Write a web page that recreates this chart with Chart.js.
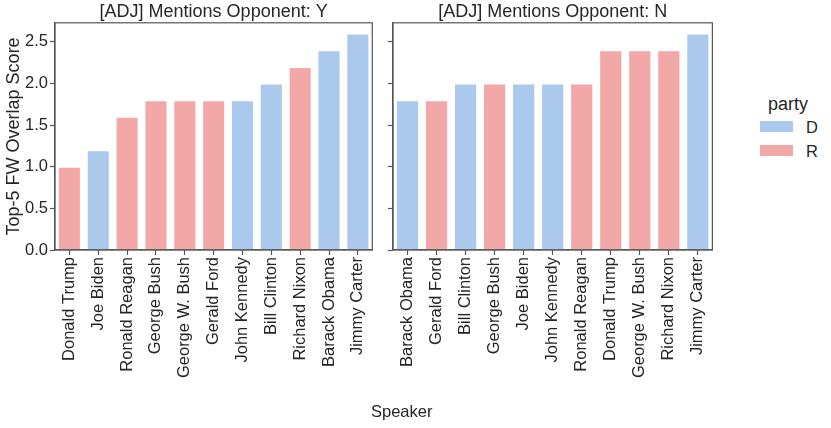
<!DOCTYPE html>
<html><head><meta charset="utf-8">
<script src="https://cdn.jsdelivr.net/npm/chart.js@4"></script>
<style>
html,body{margin:0;padding:0;background:#fff}
body{width:831px;height:428px;position:relative;overflow:hidden;font-family:"Liberation Sans",Arial,sans-serif;color:#262626}
canvas{position:absolute;top:0}
#c1{left:0}
#c2{left:380px}
.txt{position:absolute;white-space:nowrap;line-height:1}
#xtitle{left:371px;top:403px;font-size:16.5px}
#ltitle{left:768px;top:95px;font-size:18px}
.sw{position:absolute;left:760px;width:33px;height:11px}
.lab{position:absolute;left:806px;font-size:16.5px;line-height:1}
</style></head>
<body>
<canvas id="c1" width="380" height="428"></canvas>
<canvas id="c2" width="340" height="428"></canvas>
<div class="txt" id="xtitle">Speaker</div>
<div class="txt" id="ltitle">party</div>
<div class="sw" id="swD" style="top:121px"></div>
<div class="lab" style="top:119px">D</div>
<div class="sw" id="swR" style="top:144.5px"></div>
<div class="lab" style="top:143px">R</div>
<script>
// ---- data ----
const speakersY = ["Donald Trump","Joe Biden","Ronald Reagan","George Bush","George W. Bush","Gerald Ford","John Kennedy","Bill Clinton","Richard Nixon","Barack Obama","Jimmy Carter"];
const partyY    = ["R","D","R","R","R","R","D","D","R","D","D"];
const scoresY   = [1.0,1.2,1.6,1.8,1.8,1.8,1.8,2.0,2.2,2.4,2.6];

const speakersN = ["Barack Obama","Gerald Ford","Bill Clinton","George Bush","Joe Biden","John Kennedy","Ronald Reagan","Donald Trump","George W. Bush","Richard Nixon","Jimmy Carter"];
const partyN    = ["D","R","D","R","D","D","R","R","R","R","D"];
const scoresN   = [1.8,1.8,2.0,2.0,2.0,2.0,2.0,2.4,2.4,2.4,2.6];

const yTicks = [0,0.5,1.0,1.5,2.0,2.5];
const titles = ["[ADJ] Mentions Opponent: Y","[ADJ] Mentions Opponent: N"];
const yTitle = "Top-5 FW Overlap Score";

// ---- style ----
const partyColors = {D:"#abc9ed", R:"#f3a8a8"};
const FONT = '"Liberation Sans", Arial, sans-serif';
const AX = "#555555";
const TXT = "#262626";
document.getElementById("swD").style.background = partyColors.D;
document.getElementById("swR").style.background = partyColors.R;

const framePlugin = {
  id: "frame",
  afterDraw(chart){
    const a = chart.chartArea, ctx = chart.ctx;
    ctx.save();
    ctx.strokeStyle = AX; ctx.lineWidth = 1.2;
    ctx.strokeRect(a.left, a.top, a.right - a.left, a.bottom - a.top);
    ctx.restore();
  }
};

function makeChart(id, labels, values, parties, title, showY, yWidth){
  return new Chart(document.getElementById(id), {
    type: "bar",
    data: {
      labels: labels,
      datasets: [{
        data: values,
        backgroundColor: parties.map(p => partyColors[p]),
        borderColor: "rgba(255,255,255,0.7)",
        borderWidth: 1,
        barPercentage: 0.8,
        categoryPercentage: 1.0
      }]
    },
    options: {
      responsive: false,
      devicePixelRatio: 1,
      animation: false,
      layout: {padding: {left: 0, right: 5, top: 0, bottom: 0}},
      plugins: {
        legend: {display: false},
        tooltip: {enabled: false},
        title: {
          display: true, text: title, fullSize: false,
          color: TXT, font: {family: FONT, size: 18, weight: "normal", lineHeight: 1.1},
          padding: {top: 2, bottom: 1}
        }
      },
      scales: {
        x: {
          type: "category",
          offset: true,
          grid: {display: true, offset: false, drawOnChartArea: false, drawTicks: true, tickLength: 5, tickColor: AX, tickWidth: 1.2},
          border: {display: true, color: AX, width: 1.2},
          ticks: {minRotation: 90, maxRotation: 90, autoSkip: false, padding: 2, color: TXT, font: {family: FONT, size: 16.5}},
          afterFit(s){ s.height = 178; }
        },
        y: {
          min: 0, max: 2.73,
          afterBuildTicks(s){ s.ticks = yTicks.map(v => ({value: v})); },
          grid: {display: true, drawOnChartArea: false, drawTicks: true, tickLength: 5, tickColor: AX, tickWidth: 1.2},
          border: {display: true, color: AX, width: 1.2},
          ticks: {display: showY, padding: 2, color: TXT, font: {family: FONT, size: 16.5}, callback: v => Number(v).toFixed(1)},
          title: {display: showY, text: yTitle, color: TXT, font: {family: FONT, size: 18, lineHeight: 1.2}, padding: {top: 3, bottom: 0}},
          afterFit(s){ s.width = yWidth; }
        }
      }
    },
    plugins: [framePlugin]
  });
}

makeChart("c1", speakersY, scoresY, partyY, titles[0], true, 55);
makeChart("c2", speakersN, scoresN, partyN, titles[1], false, 13);
</script>
</body></html>
